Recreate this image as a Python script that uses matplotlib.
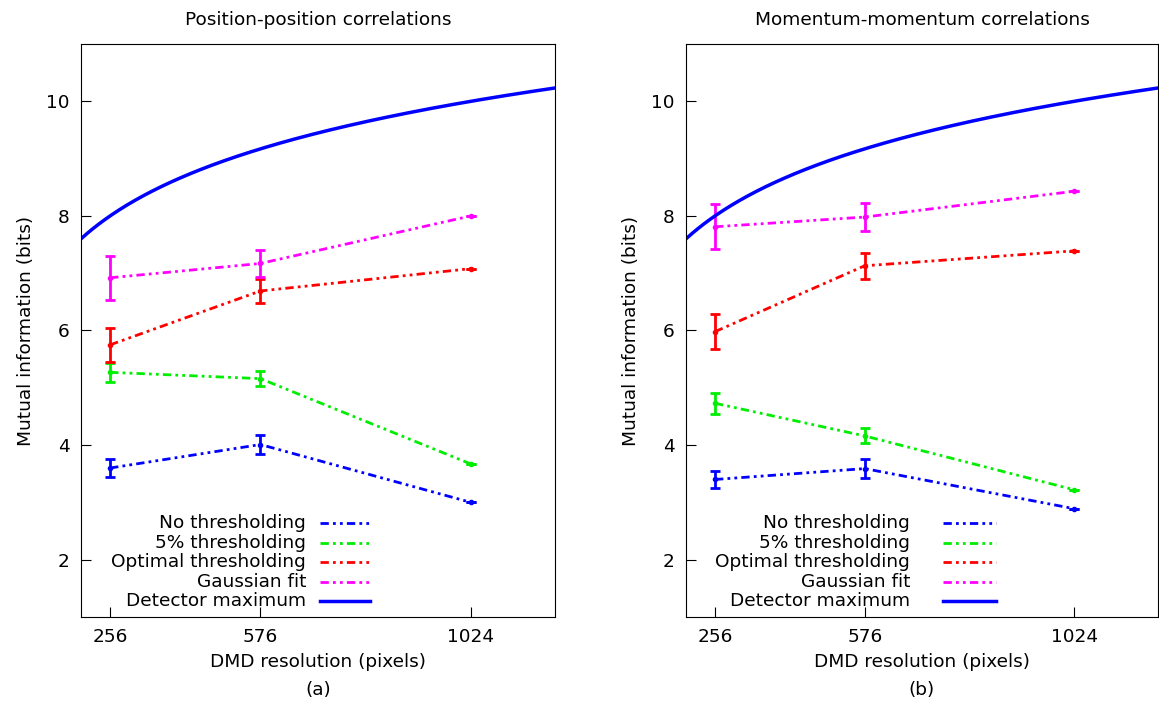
import matplotlib
matplotlib.use("Agg")
import matplotlib.pyplot as plt
from matplotlib.lines import Line2D
import numpy as np

plt.rcParams['font.family'] = ['DejaVu Sans']
plt.rcParams['font.size'] = 13.3

# DMD resolutions
res = [256, 576, 1024]

# panel (a) position-position
pos_none = [3.60, 4.01, 3.00]
pos_none_err = [0.15, 0.17, 0]
pos_5pc = [5.27, 5.16, 3.67]
pos_5pc_err = [0.17, 0.13, 0]
pos_opt = [5.75, 6.69, 7.08]
pos_opt_err = [0.30, 0.21, 0]
pos_gauss = [6.92, 7.17, 8.00]
pos_gauss_err = [0.38, 0.24, 0]

# panel (b) momentum-momentum
mom_none = [3.40, 3.59, 2.89]
mom_none_err = [0.15, 0.17, 0]
mom_5pc = [4.73, 4.16, 3.22]
mom_5pc_err = [0.18, 0.13, 0]
mom_opt = [5.98, 7.13, 7.39]
mom_opt_err = [0.31, 0.23, 0]
mom_gauss = [7.81, 7.98, 8.43]
mom_gauss_err = [0.39, 0.25, 0]

labels = ["No thresholding", "5% thresholding", "Optimal thresholding",
          "Gaussian fit", "Detector maximum"]
colors = ["#0000ff", "#00ee00", "#ff0000", "#ff00ff"]
dashdotdot = (0, (3, 1.5, 1, 1.5, 1, 1.5))

fig = plt.figure(figsize=(11.59, 7.02), dpi=100)
ax1 = fig.add_axes([81/1159, 1-617/702, 474/1159, 573/702])
ax2 = fig.add_axes([686/1159, 1-617/702, 472/1159, 573/702])

xs = np.linspace(194, 1203, 400)


def panel(ax, series, title, tag, leg_line_x):
    for (vals, errs), c in zip(series, colors):
        ax.errorbar(res, vals, yerr=errs, color=c, ls=dashdotdot, lw=2,
                    elinewidth=2, capsize=3.5, capthick=2, marker='o', ms=3)
    # detector maximum = log2 of the number of pixels
    ax.plot(xs, np.log2(xs), color='#0000ff', lw=2.5)
    ax.set_xlim(194, 1203)
    ax.set_ylim(1, 11)
    ax.set_xticks(res)
    ax.set_yticks([2, 4, 6, 8, 10])
    ax.tick_params(direction='in', length=7, width=0.8, pad=8, labelsize=13.3)
    ax.set_xlabel("DMD resolution (pixels)", labelpad=5)
    ax.set_ylabel("Mutual information (bits)", labelpad=8)
    ax.set_title(title, fontsize=13.3, pad=14)
    ax.text(0.5, -0.127, tag, transform=ax.transAxes, ha='center', va='center')

    # gnuplot style key: right aligned text, sample on the right
    ys = [0.164, 0.130, 0.096, 0.061, 0.028]
    styles = [dict(color=c, ls=dashdotdot, lw=2) for c in colors]
    styles.append(dict(color='#0000ff', ls='-', lw=2.5))
    for lab, y, st in zip(labels, ys, styles):
        ax.text(0.475, y, lab, transform=ax.transAxes, ha='right', va='center')
        ax.add_line(Line2D(leg_line_x, [y, y], transform=ax.transAxes, **st))


panel(ax1, [(pos_none, pos_none_err), (pos_5pc, pos_5pc_err),
            (pos_opt, pos_opt_err), (pos_gauss, pos_gauss_err)],
      "Position-position correlations", "(a)", [0.504, 0.61])
panel(ax2, [(mom_none, mom_none_err), (mom_5pc, mom_5pc_err),
            (mom_opt, mom_opt_err), (mom_gauss, mom_gauss_err)],
      "Momentum-momentum correlations", "(b)", [0.545, 0.657])

fig.savefig("out.png", dpi=100)
